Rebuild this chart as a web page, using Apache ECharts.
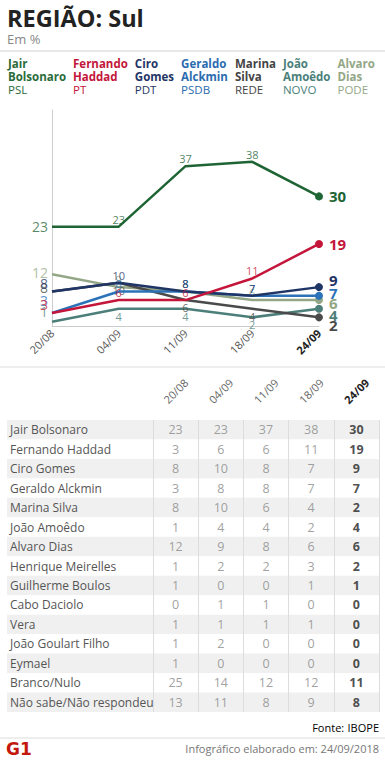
<!DOCTYPE html>
<html><head><meta charset="utf-8">
<script src="https://cdn.jsdelivr.net/npm/echarts@6/dist/echarts.min.js"></script>
<style>html,body{margin:0;padding:0;background:#fff}#c{width:385px;height:768px}</style>
</head><body><div id="c"></div><script>
// ---- data ----
const dates = ['20/08', '04/09', '11/09', '18/09', '24/09'];
const candidates = ['Jair Bolsonaro', 'Fernando Haddad', 'Ciro Gomes', 'Geraldo Alckmin', 'Marina Silva',
  'João Amoêdo', 'Alvaro Dias', 'Henrique Meirelles', 'Guilherme Boulos', 'Cabo Daciolo', 'Vera',
  'João Goulart Filho', 'Eymael', 'Branco/Nulo', 'Não sabe/Não respondeu'];
const parties = ['PSL', 'PT', 'PDT', 'PSDB', 'REDE', 'NOVO', 'PODE'];
const jairBolsonaro = [23, 23, 37, 38, 30];
const fernandoHaddad = [3, 6, 6, 11, 19];
const ciroGomes = [8, 10, 8, 7, 9];
const geraldoAlckmin = [3, 8, 8, 7, 7];
const marinaSilva = [8, 10, 6, 4, 2];
const joaoAmoedo = [1, 4, 4, 2, 4];
const alvaroDias = [12, 9, 8, 6, 6];
const henriqueMeirelles = [1, 2, 2, 3, 2];
const guilhermeBoulos = [1, 0, 0, 1, 1];
const caboDaciolo = [0, 1, 1, 0, 0];
const vera = [1, 1, 1, 1, 0];
const joaoGoulartFilho = [1, 2, 0, 0, 0];
const eymael = [1, 0, 0, 0, 0];
const brancoNulo = [25, 14, 12, 12, 11];
const naoSabe = [13, 11, 8, 9, 8];
const rows = [jairBolsonaro, fernandoHaddad, ciroGomes, geraldoAlckmin, marinaSilva, joaoAmoedo, alvaroDias,
  henriqueMeirelles, guilhermeBoulos, caboDaciolo, vera, joaoGoulartFilho, eymael, brancoNulo, naoSabe];
const chartCount = 7;

// ---- styles ----
const FONT = 'Open Sans';
const colors = ['#1e6434', '#c4163b', '#1f3566', '#2b72b8', '#4a4a4a', '#4d7f7a', '#93a786'];
const legendColors = ['#2a6b3a', '#c4163b', '#1f3566', '#2b6bb0', '#444444', '#4a7f7a', '#93a786'];
const startOffsets = [[0, 0], [0, -9], [0, -8], [0, -13], [0, -4], [0, -10], [0, -2]];
const endOffsets = [[0, 0], [0, 0], [0, -7], [0, -3], [0, 8], [0, 6], [0, 3]];
const midPos = ['top', 'top', 'top', 'top', 'bottom', 'bottom', 'top'];

const chart = echarts.init(document.getElementById('c'), null, { renderer: 'svg' });

const lineSeries = [];
for (let i = 0; i < chartCount; i++) {
  const vals = rows[i];
  const col = colors[i];
  lineSeries.push({
    type: 'line', name: candidates[i], xAxisIndex: 0, yAxisIndex: 0,
    symbol: 'circle', showSymbol: true, z: 10 - i,
    lineStyle: { width: 2.5, color: col }, itemStyle: { color: col },
    emphasis: { disabled: true },
    data: vals.map((v, j) => {
      const first = j === 0, last = j === vals.length - 1;
      let label;
      if (first) label = { show: true, position: 'left', distance: 4, fontSize: 14, fontFamily: FONT, color: col, opacity: 0.75, offset: startOffsets[i] };
      else if (last) label = { show: true, position: 'right', distance: 6, fontSize: 15, fontWeight: 'bold', fontFamily: FONT, color: col, offset: endOffsets[i] };
      else label = { show: true, position: midPos[i], distance: 2, fontSize: 11, fontFamily: FONT, color: col, opacity: 0.8 };
      return { value: v, symbolSize: last ? 8 : 0, label };
    })
  });
}

const tableData = [];
rows.forEach((vals, r) => vals.forEach((v, c) => {
  const item = { value: [c, r, v] };
  if (c === vals.length - 1) item.label = { fontWeight: 'bold', color: '#222' };
  tableData.push(item);
}));

const legendData = [];
for (let i = 0; i < chartCount; i++) {
  legendData.push({
    name: candidates[i],
    textStyle: {
      rich: {
        n: { fontWeight: 'bold', fontSize: 11.5, lineHeight: 13, color: legendColors[i], fontFamily: FONT },
        p: { fontSize: 11.5, lineHeight: 13, color: legendColors[i], fontFamily: FONT }
      }
    }
  });
}

const stripe = { show: true, areaStyle: { color: ['#f0f0f0', '#ffffff'] } };

chart.setOption({
  animation: false,
  backgroundColor: '#fff',
  textStyle: { fontFamily: FONT },
  title: {
    left: 7, top: 6, padding: 0, itemGap: 2,
    text: 'REGIÃO: Sul',
    textStyle: { fontSize: 23.5, fontWeight: 'bold', color: '#222', fontFamily: FONT },
    subtext: 'Em %',
    subtextStyle: { fontSize: 13, color: '#888', fontFamily: FONT }
  },
  legend: {
    left: 3, top: 57, padding: 0, itemGap: 2, icon: 'none', itemWidth: 0, itemHeight: 0,
    selectedMode: false, data: legendData,
    formatter: name => {
      const i = candidates.indexOf(name);
      const parts = name.split(' ');
      return '{n|' + parts[0] + '}\n{n|' + parts.slice(1).join(' ') + '}\n{p|' + parties[i] + '}';
    }
  },
  grid: [
    { left: 52, right: 66, top: 110, bottom: 442 },
    { left: 153, right: 6, top: 420, height: 292 },
    { left: 7, width: 146, top: 420, height: 292 }
  ],
  xAxis: [
    {
      gridIndex: 0, type: 'category', data: dates, boundaryGap: false,
      axisLine: { lineStyle: { color: '#cccccc' } }, axisTick: { show: false }, splitLine: { show: false },
      axisLabel: {
        rotate: 45, margin: 5, fontSize: 11, color: '#555', fontFamily: FONT,
        formatter: (v, i) => i === dates.length - 1 ? '{b|' + v + '}' : v,
        rich: { b: { fontSize: 11, color: '#222', fontWeight: 'bold', fontFamily: FONT } }
      }
    },
    {
      gridIndex: 1, type: 'category', data: dates, position: 'top',
      axisLine: { show: false }, axisTick: { show: false },
      splitLine: { show: true, lineStyle: { color: '#dddddd', width: 1 } },
      axisLabel: {
        rotate: -45, margin: 29, align: 'center', verticalAlign: 'middle',
        fontSize: 11, color: '#666', fontFamily: FONT,
        formatter: (v, i) => i === dates.length - 1 ? '{b|' + v + '}' : v,
        rich: { b: { fontSize: 11, color: '#222', fontWeight: 'bold', fontFamily: FONT } }
      }
    },
    { gridIndex: 2, type: 'value', show: false, min: 0, max: 1 }
  ],
  yAxis: [
    {
      gridIndex: 0, type: 'value', min: 0, max: 50,
      axisLine: { show: true, lineStyle: { color: '#cccccc' } },
      axisTick: { show: false }, axisLabel: { show: false }, splitLine: { show: false }
    },
    {
      gridIndex: 1, type: 'category', data: candidates, inverse: true,
      axisLine: { show: false }, axisTick: { show: false }, axisLabel: { show: false },
      splitLine: { show: false }, splitArea: stripe
    },
    {
      gridIndex: 2, type: 'category', data: candidates, inverse: true,
      axisLine: { show: false }, axisTick: { show: false }, splitLine: { show: false }, splitArea: stripe,
      axisLabel: { inside: true, margin: 3, fontSize: 12, color: '#555', fontFamily: FONT }
    }
  ],
  series: lineSeries.concat([{
    type: 'scatter', name: 'tabela', xAxisIndex: 1, yAxisIndex: 1, symbolSize: 0, silent: true,
    label: { show: true, position: 'inside', formatter: p => p.value[2], fontSize: 12.5, color: '#888', fontFamily: FONT },
    data: tableData
  }]),
  graphic: [
    { type: 'rect', shape: { x: 0, y: 50, width: 385, height: 2 }, style: { fill: '#e8e8e8' }, silent: true },
    { type: 'rect', shape: { x: 0, y: 366, width: 385, height: 2 }, style: { fill: '#eeeeee' }, silent: true },
    { type: 'rect', shape: { x: 0, y: 737, width: 385, height: 2 }, style: { fill: '#eeeeee' }, silent: true },
    {
      type: 'text', x: 379, y: 727, silent: true,
      style: {
        text: '{a|Fonte:} {b|IBOPE}', align: 'right', verticalAlign: 'middle',
        rich: { a: { fontSize: 11, color: '#666', fontFamily: FONT }, b: { fontSize: 11, color: '#999', fontFamily: FONT } }
      }
    },
    {
      type: 'text', x: 379, y: 748, silent: true,
      style: { text: 'Infográfico elaborado em: 24/09/2018', align: 'right', verticalAlign: 'middle', fontSize: 11, fill: '#777', fontFamily: FONT }
    },
    {
      type: 'text', x: 6, y: 749, silent: true,
      style: { text: 'G1', align: 'left', verticalAlign: 'middle', fontSize: 17, fontWeight: 900, fill: '#c4170c', fontFamily: 'DejaVu Sans' }
    }
  ]
});
</script></body></html>
